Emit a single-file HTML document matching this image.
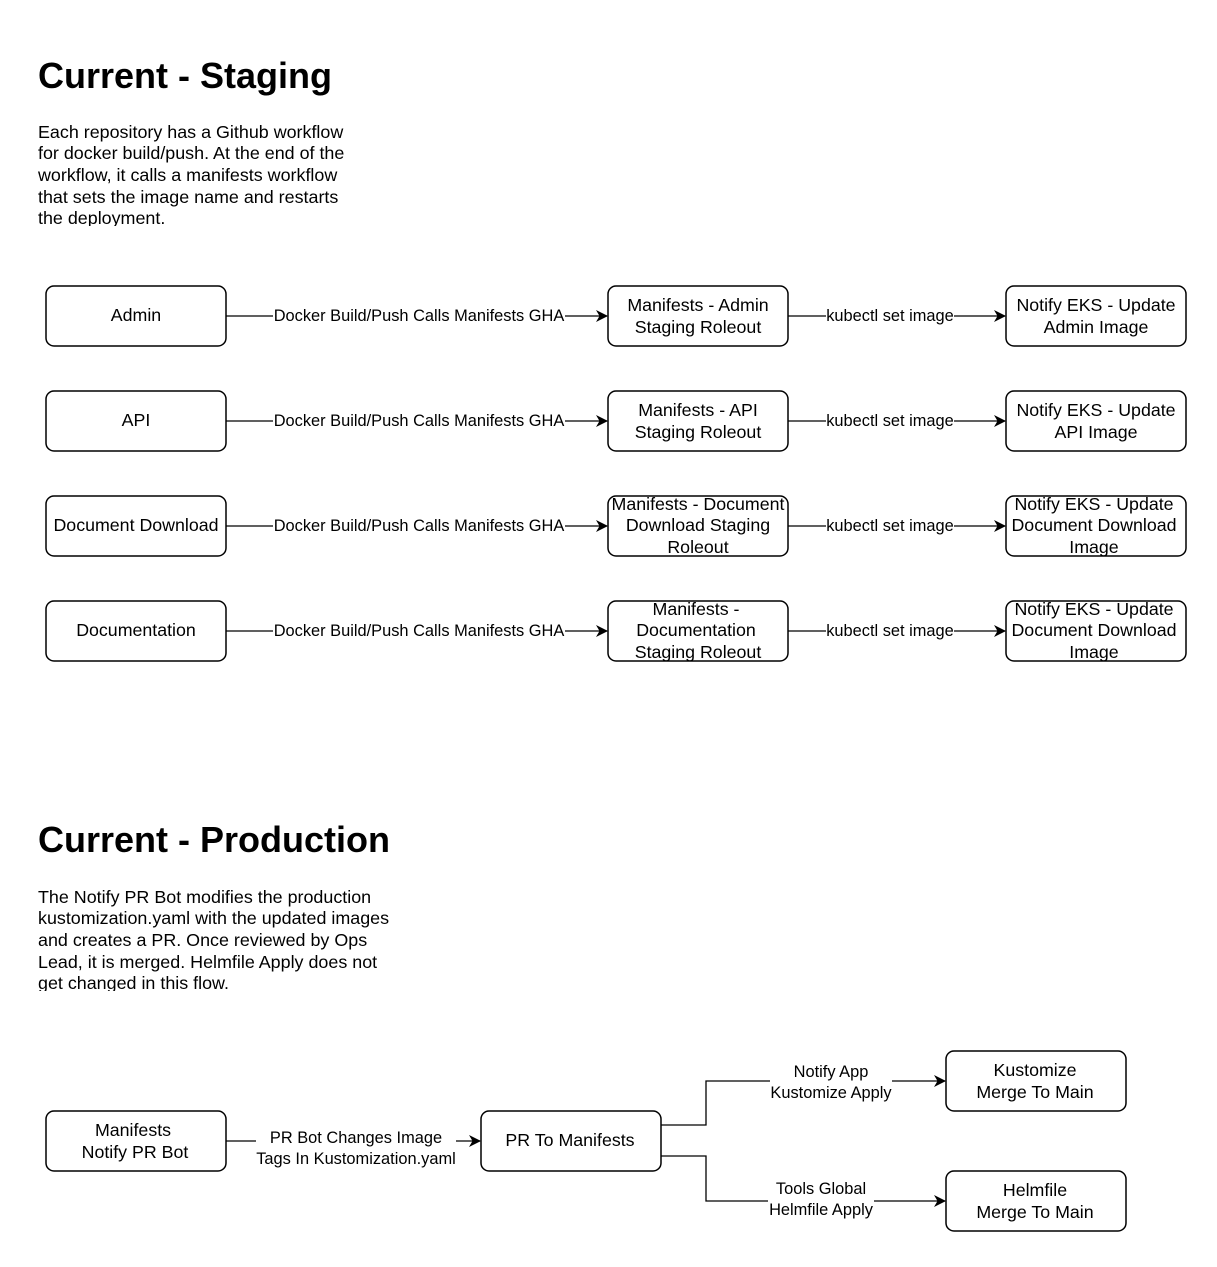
<!DOCTYPE html>
<html><head><meta charset="utf-8"><style>
body{margin:0;background:#fff;width:1217px;height:1262px;overflow:hidden;font-family:"Liberation Sans",Arial,sans-serif}
svg text{font-family:"Liberation Sans",Arial,sans-serif}
</style></head><body>
<svg width="1217" height="1262" xmlns="http://www.w3.org/2000/svg">
<defs>
<marker id="a" markerWidth="12" markerHeight="12" refX="11" refY="6" orient="auto" markerUnits="userSpaceOnUse"><path d="M0,0 L12,6 L0,12 L3.5,6 z" fill="#000"/></marker>
<clipPath id="c1"><rect x="30" y="115" width="400" height="111"/></clipPath>
<clipPath id="c2"><rect x="30" y="880" width="400" height="111"/></clipPath>
</defs>
<text x="38" y="88" font-size="36" font-weight="bold">Current - Staging</text>
<g clip-path="url(#c1)" font-size="17.9">
<text x="38" y="138">Each repository has a Github workflow</text>
<text x="38" y="159">for docker build/push. At the end of the</text>
<text x="38" y="181">workflow, it calls a manifests workflow</text>
<text x="38" y="203">that sets the image name and restarts</text>
<text x="38" y="224">the deployment.</text>
</g>
<g fill="none" stroke="#000" stroke-width="1.5">
<rect x="46" y="286" width="180" height="60" rx="8"/><rect x="608" y="286" width="180" height="60" rx="8"/><rect x="1006" y="286" width="180" height="60" rx="8"/>
<rect x="46" y="391" width="180" height="60" rx="8"/><rect x="608" y="391" width="180" height="60" rx="8"/><rect x="1006" y="391" width="180" height="60" rx="8"/>
<rect x="46" y="496" width="180" height="60" rx="8"/><rect x="608" y="496" width="180" height="60" rx="8"/><rect x="1006" y="496" width="180" height="60" rx="8"/>
<rect x="46" y="601" width="180" height="60" rx="8"/><rect x="608" y="601" width="180" height="60" rx="8"/><rect x="1006" y="601" width="180" height="60" rx="8"/>
</g>
<g stroke="#000" stroke-width="1.3" marker-end="url(#a)">
<line x1="226" y1="316" x2="607" y2="316"/><line x1="788" y1="316" x2="1005" y2="316"/>
<line x1="226" y1="421" x2="607" y2="421"/><line x1="788" y1="421" x2="1005" y2="421"/>
<line x1="226" y1="526" x2="607" y2="526"/><line x1="788" y1="526" x2="1005" y2="526"/>
<line x1="226" y1="631" x2="607" y2="631"/><line x1="788" y1="631" x2="1005" y2="631"/>
</g>
<g font-size="16.4" text-anchor="middle">
<rect x="273" y="306" width="292" height="19" fill="#fff"/><text x="419" y="321">Docker Build/Push Calls Manifests GHA</text>
<rect x="826" y="306" width="128" height="19" fill="#fff"/><text x="890" y="321">kubectl set image</text>
<rect x="273" y="411" width="292" height="19" fill="#fff"/><text x="419" y="426">Docker Build/Push Calls Manifests GHA</text>
<rect x="826" y="411" width="128" height="19" fill="#fff"/><text x="890" y="426">kubectl set image</text>
<rect x="273" y="516" width="292" height="19" fill="#fff"/><text x="419" y="531">Docker Build/Push Calls Manifests GHA</text>
<rect x="826" y="516" width="128" height="19" fill="#fff"/><text x="890" y="531">kubectl set image</text>
<rect x="273" y="621" width="292" height="19" fill="#fff"/><text x="419" y="636">Docker Build/Push Calls Manifests GHA</text>
<rect x="826" y="621" width="128" height="19" fill="#fff"/><text x="890" y="636">kubectl set image</text>
</g>
<g font-size="17.8" text-anchor="middle">
<text x="136" y="321">Admin</text>
<text x="698" y="311">Manifests - Admin</text><text x="698" y="333">Staging Roleout</text>
<text x="1096" y="311">Notify EKS - Update</text><text x="1096" y="333">Admin Image</text>
<text x="136" y="426">API</text>
<text x="698" y="416">Manifests - API</text><text x="698" y="438">Staging Roleout</text>
<text x="1096" y="416">Notify EKS - Update</text><text x="1096" y="438">API Image</text>
<text x="136" y="531">Document Download</text>
<text x="698" y="510">Manifests - Document</text><text x="698" y="531">Download  Staging</text><text x="698" y="553">Roleout</text>
<text x="1094" y="510">Notify EKS - Update</text><text x="1094" y="531">Document Download</text><text x="1094" y="553">Image</text>
<text x="136" y="636">Documentation</text>
<text x="696" y="615">Manifests -</text><text x="696" y="636">Documentation</text><text x="698" y="658">Staging Roleout</text>
<text x="1094" y="615">Notify EKS - Update</text><text x="1094" y="636">Document Download</text><text x="1094" y="658">Image</text>
</g>

<text x="38" y="852" font-size="36" font-weight="bold">Current - Production</text>
<g clip-path="url(#c2)" font-size="17.9">
<text x="38" y="903">The Notify PR Bot modifies the production</text>
<text x="38" y="924">kustomization.yaml with the updated images</text>
<text x="38" y="946">and creates a PR. Once reviewed by Ops</text>
<text x="38" y="968">Lead, it is merged.  Helmfile Apply does not</text>
<text x="38" y="989">get changed in this flow.</text>
</g>
<g fill="none" stroke="#000" stroke-width="1.5">
<rect x="46" y="1111" width="180" height="60" rx="8"/>
<rect x="481" y="1111" width="180" height="60" rx="8"/>
<rect x="946" y="1051" width="180" height="60" rx="8"/>
<rect x="946" y="1171" width="180" height="60" rx="8"/>
</g>
<g stroke="#000" stroke-width="1.3" fill="none" marker-end="url(#a)">
<line x1="226" y1="1141" x2="480" y2="1141"/>
<polyline points="661,1125 706,1125 706,1081 945,1081"/>
<polyline points="661,1156 706,1156 706,1201 945,1201"/>
</g>
<rect x="256" y="1127" width="200" height="42" fill="#fff"/>
<rect x="770" y="1061" width="122" height="42" fill="#fff"/>
<rect x="768" y="1179" width="106" height="42" fill="#fff"/>
<g font-size="16.4" text-anchor="middle">
<text x="356" y="1143">PR Bot Changes Image</text><text x="356" y="1164">Tags In Kustomization.yaml</text>
<text x="831" y="1077">Notify App</text><text x="831" y="1098">Kustomize Apply</text>
<text x="821" y="1194">Tools Global</text><text x="821" y="1215">Helmfile Apply</text>
</g>
<g font-size="17.8" text-anchor="middle">
<text x="133" y="1136">Manifests</text><text x="135" y="1158">Notify PR Bot</text>
<text x="570" y="1146">PR To Manifests</text>
<text x="1035" y="1076">Kustomize</text><text x="1035" y="1098">Merge To Main</text>
<text x="1035" y="1196">Helmfile</text><text x="1035" y="1218">Merge To Main</text>
</g>
</svg>
</body></html>
